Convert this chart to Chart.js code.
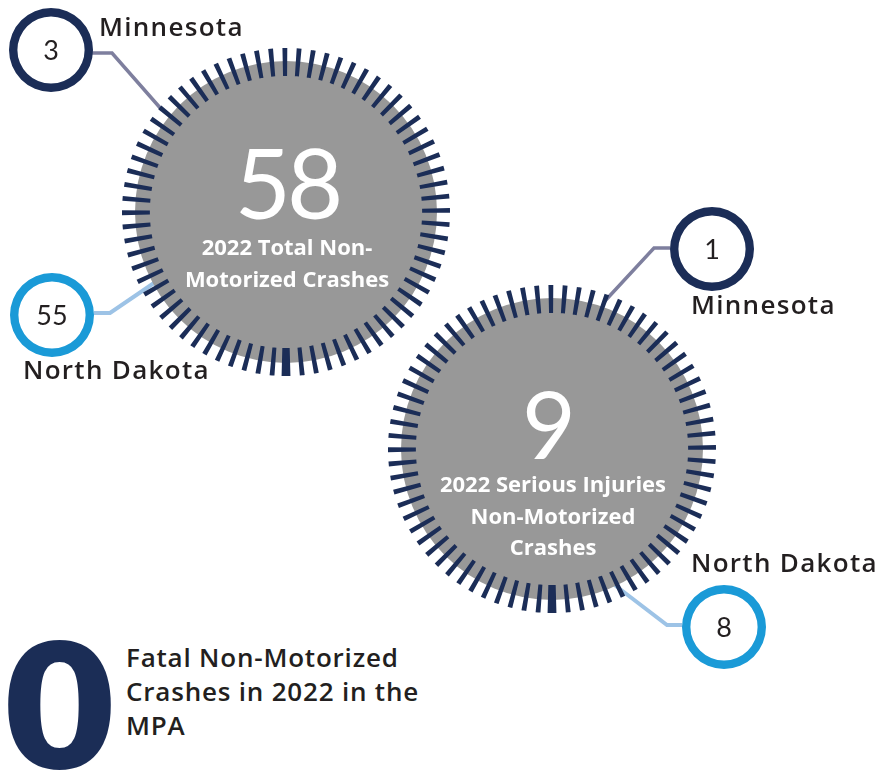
<!DOCTYPE html>
<html>
<head>
<meta charset="utf-8">
<script src="https://cdn.jsdelivr.net/npm/chart.js@4.4.1/dist/chart.umd.min.js"></script>
<style>
  html, body { margin: 0; padding: 0; background: #fff; }
  #stage { position: relative; width: 881px; height: 772px; overflow: hidden; }
  #stage canvas { position: absolute; }
  .txt { position: absolute; white-space: nowrap; }
  .state { font-family: 'Open Sans', sans-serif; font-weight: 600; font-size: 26px; line-height: 1.2; color: #231f20; letter-spacing: 1.3px; }
  .big { font-family: Lato, sans-serif; font-weight: 400; color: #fff; text-align: center; line-height: 1.2; }
  .cap { font-family: 'Open Sans', sans-serif; font-weight: 700; font-size: 22px; color: #fff; text-align: center; }
  .small { font-family: Lato, sans-serif; font-size: 27px; color: #231f20; width: 84px; height: 84px; line-height: 84px; text-align: center; }
  svg { position: absolute; left: 0; top: 0; }
</style>
</head>
<body>
<div id="stage">
  <svg width="881" height="772">
    <polyline points="92,53 112,53 162,110" fill="none" stroke="#7e7f9e" stroke-width="3.5"/>
    <polyline points="94,313 110,313 154,283" fill="none" stroke="#9dc3e6" stroke-width="4"/>
    <polyline points="670,248 654,248 604,302" fill="none" stroke="#7e7f9e" stroke-width="3.5"/>
    <polyline points="682,625 667,625 612,583" fill="none" stroke="#9dc3e6" stroke-width="4"/>
  </svg>

  <canvas id="pie-total" width="302" height="302" style="left:135px;top:61px"></canvas>
  <canvas id="ring-total" width="328" height="328" style="left:122px;top:48px"></canvas>
  <canvas id="pie-serious" width="302" height="302" style="left:401px;top:298px"></canvas>
  <canvas id="ring-serious" width="328" height="328" style="left:388px;top:285px"></canvas>

  <canvas id="mn-total" width="84" height="84" style="left:9px;top:8px"></canvas>
  <canvas id="nd-total" width="84" height="84" style="left:10px;top:273px"></canvas>
  <canvas id="mn-serious" width="84" height="84" style="left:670px;top:207px"></canvas>
  <canvas id="nd-serious" width="84" height="84" style="left:682px;top:585px"></canvas>

  <div class="txt small" id="lbl-mn-total" style="left:9px;top:8px"></div>
  <div class="txt small" id="lbl-nd-total" style="left:10px;top:273px"></div>
  <div class="txt small" id="lbl-mn-serious" style="left:670px;top:207px"></div>
  <div class="txt small" id="lbl-nd-serious" style="left:682px;top:585px"></div>

  <div class="txt state" style="left:99px;top:11px">Minnesota</div>
  <div class="txt state" style="left:23px;top:354px">North Dakota</div>
  <div class="txt state" style="left:691px;top:289px">Minnesota</div>
  <div class="txt state" style="left:691px;top:547px">North Dakota</div>

  <div class="txt big" id="big-total" style="left:187px;top:124px;width:200px;font-size:97px;letter-spacing:-4px"></div>
  <div class="txt cap" id="cap-total" style="left:137px;top:230px;width:300px;line-height:32px"></div>
  <div class="txt big" id="big-serious" style="left:449px;top:368px;width:200px;font-size:93px"></div>
  <div class="txt cap" id="cap-serious" style="left:403px;top:468px;width:300px;line-height:31.5px"></div>

  <div class="txt" id="fatal-num" style="left:0px;top:623px;font-family:'DejaVu Sans',sans-serif;font-weight:700;font-size:171px;line-height:1;color:#1b2d56"></div>
  <div class="txt state" style="left:126px;top:640px;line-height:34px;letter-spacing:0.8px">Fatal Non-Motorized<br>Crashes in 2022 in the<br>MPA</div>
</div>

<script>
// 2022 non-motorized crash figures
const CATEGORIES   = ['2022 Total Non-Motorized Crashes', '2022 Serious Injuries Non-Motorized Crashes'];
const TOTALS       = [58, 9];
const MINNESOTA    = [3, 1];
const NORTH_DAKOTA = [55, 8];
const FATAL        = 0;

const CAPTION_LINES = [
  ['2022 Total Non-', 'Motorized Crashes'],
  ['2022 Serious Injuries', 'Non-Motorized', 'Crashes']
];

const NAVY  = '#1b2d57';
const GRAY  = '#989898';
const BLUE  = '#1a9ad7';
const TICKS = 72;

const baseOpts = {
  responsive: false,
  animation: false,
  events: [],
  plugins: { legend: { display: false }, tooltip: { enabled: false } }
};

// decorative tick ring: navy tick / transparent gap, one thicker tick at the bottom
function tickRing() {
  const data = [], colors = [];
  for (let i = 0; i < TICKS; i++) {
    data.push(i === 0 ? 0.62 : 0.34, i === 0 ? 0.5 : 0.66);
    colors.push(NAVY, 'rgba(0,0,0,0)');
  }
  const sum = data.reduce((a, b) => a + b, 0);
  return { data, colors, rotation: 180 - (data[0] / 2) / sum * 360 };
}

function drawBadge(id, value, color) {
  new Chart(document.getElementById(id), {
    type: 'doughnut',
    data: { labels: [id], datasets: [{ data: [value || 1], backgroundColor: color, borderWidth: 0 }] },
    options: { ...baseOpts, cutout: '80%' }
  });
}

const keys = ['total', 'serious'];
keys.forEach((k, i) => {
  new Chart(document.getElementById('pie-' + k), {
    type: 'pie',
    data: { labels: [CATEGORIES[i]], datasets: [{ data: [TOTALS[i]], backgroundColor: GRAY, borderWidth: 0 }] },
    options: baseOpts
  });

  const ring = tickRing();
  new Chart(document.getElementById('ring-' + k), {
    type: 'doughnut',
    data: { labels: ring.data.map((_, j) => j), datasets: [{ data: ring.data, backgroundColor: ring.colors, borderWidth: 0 }] },
    options: { ...baseOpts, cutout: '83%', rotation: ring.rotation }
  });

  drawBadge('mn-' + k, MINNESOTA[i], NAVY);
  drawBadge('nd-' + k, NORTH_DAKOTA[i], BLUE);

  document.getElementById('lbl-mn-' + k).textContent = MINNESOTA[i];
  document.getElementById('lbl-nd-' + k).textContent = NORTH_DAKOTA[i];
  document.getElementById('big-' + k).textContent = TOTALS[i];
  document.getElementById('cap-' + k).innerHTML = CAPTION_LINES[i].join('<br>');
});

document.getElementById('fatal-num').textContent = FATAL;
</script>
</body>
</html>
